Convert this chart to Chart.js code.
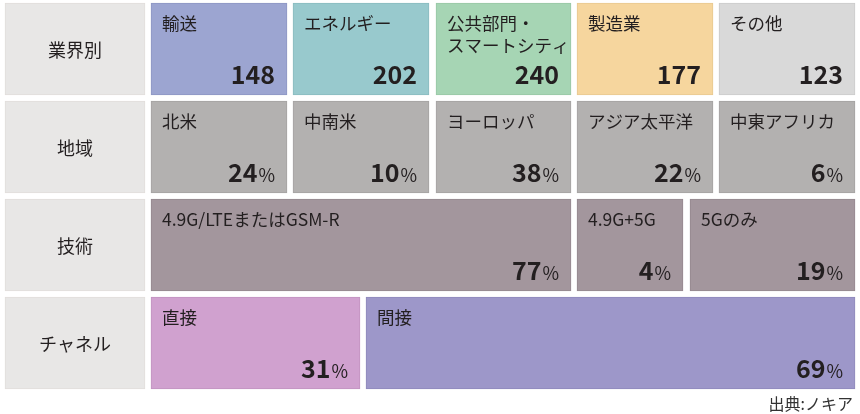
<!DOCTYPE html>
<html>
<head>
<meta charset="utf-8">
<script src="https://cdn.jsdelivr.net/npm/chart.js@4/dist/chart.umd.min.js"></script>
<style>
  body { margin: 0; background: #fff; }
  #wrap { width: 860px; height: 414px; }
</style>
</head>
<body>
<div id="wrap"><canvas id="myChart"></canvas></div>
<script>
// row headers
var rowLabels = ['業界別', '地域', '技術', 'チャネル'];

// 業界別 (件数)
var industryNames = ['輸送', 'エネルギー', '公共部門・\nスマートシティ', '製造業', 'その他'];
var industryValues = [148, 202, 240, 177, 123];

// 地域 (%)
var regionNames = ['北米', '中南米', 'ヨーロッパ', 'アジア太平洋', '中東アフリカ'];
var regionValues = [24, 10, 38, 22, 6];

// 技術 (%)
var techNames = ['4.9G/LTEまたはGSM-R', '4.9G+5G', '5Gのみ'];
var techValues = [77, 4, 19];

// チャネル (%)
var channelNames = ['直接', '間接'];
var channelValues = [31, 69];

var sourceText = '出典:ノキア';

// layout: cell edges on a 0-860 x scale
var headerSpan = [5, 145];
var rowSpans = [
  [[151, 287], [293, 429], [436, 571], [577, 713], [719, 855]],
  [[151, 287], [293, 429], [436, 571], [577, 713], [719, 855]],
  [[151, 571], [577, 683], [690, 855]],
  [[151, 360], [366, 855]]
];
var rowColors = [
  ['#9ca5d1', '#98c9cd', '#a6d5b4', '#f6d69e', '#d9d9d9'],
  ['#b3b1b0', '#b3b1b0', '#b3b1b0', '#b3b1b0', '#b3b1b0'],
  ['#a3969d', '#a3969d', '#a3969d'],
  ['#d0a1cf', '#9d97c9']
];
var headerColor = '#e8e7e6';

var rows = [
  { names: industryNames, values: industryValues, pct: false },
  { names: regionNames, values: regionValues, pct: true },
  { names: techNames, values: techValues, pct: true },
  { names: channelNames, values: channelValues, pct: true }
];

function darker(hex) {
  var n = parseInt(hex.slice(1), 16);
  var r = Math.max(0, (n >> 16) - 14), g = Math.max(0, ((n >> 8) & 255) - 14), b = Math.max(0, (n & 255) - 14);
  return 'rgb(' + r + ',' + g + ',' + b + ')';
}

// one dataset per column slot, slot 0 = row header
var datasets = [];
datasets.push({
  data: rowLabels.map(function () { return headerSpan; }),
  backgroundColor: headerColor,
  borderColor: '#e2dedb',
  borderWidth: 1,
  borderSkipped: false,
  grouped: false,
  barThickness: 92
});
for (var s = 0; s < 5; s++) {
  datasets.push({
    data: rowSpans.map(function (r) { return r[s] || null; }),
    backgroundColor: rowColors.map(function (c) { return c[s] || 'transparent'; }),
    borderColor: rowColors.map(function (c) { return c[s] ? darker(c[s]) : 'transparent'; }),
    borderWidth: 1,
    borderSkipped: false,
    grouped: false,
    barThickness: 92
  });
}

var FONT = '"Noto Sans CJK JP", "Noto Sans", sans-serif';
var INK = '#231f20';

var cellText = {
  id: 'cellText',
  afterDatasetsDraw: function (chart) {
    var ctx = chart.ctx;
    ctx.save();
    chart.data.datasets.forEach(function (ds, di) {
      var meta = chart.getDatasetMeta(di);
      meta.data.forEach(function (bar, i) {
        if (!ds.data[i]) return;
        var p = bar.getProps(['x', 'base', 'y', 'height'], true);
        var left = Math.min(p.x, p.base), right = Math.max(p.x, p.base);
        var top = p.y - p.height / 2, bottom = p.y + p.height / 2;
        ctx.fillStyle = INK;
        if (di === 0) {
          ctx.font = '18px ' + FONT;
          ctx.textAlign = 'center';
          ctx.textBaseline = 'middle';
          ctx.fillText(rowLabels[i], (left + right) / 2, p.y + 1);
          return;
        }
        var row = rows[i], k = di - 1;
        // name, top left
        ctx.font = '17.5px ' + FONT;
        ctx.textAlign = 'left';
        ctx.textBaseline = 'middle';
        row.names[k].split('\n').forEach(function (line, li) {
          ctx.fillText(line, left + 11, top + 20 + li * 22);
        });
        // value, bottom right
        ctx.textAlign = 'right';
        ctx.textBaseline = 'alphabetic';
        var xr = right - 12, yb = bottom - 11;
        if (row.pct) {
          ctx.font = '18px ' + FONT;
          ctx.fillText('%', xr, yb);
          xr -= ctx.measureText('%').width + 1;
        }
        ctx.font = 'bold 25px ' + FONT;
        ctx.fillText(String(row.values[k]), xr, yb);
      });
    });
    // source
    ctx.font = '16px ' + FONT;
    ctx.fillStyle = '#333';
    ctx.textAlign = 'right';
    ctx.textBaseline = 'middle';
    ctx.fillText(sourceText, 853, 404);
    ctx.restore();
  }
};

new Chart(document.getElementById('myChart'), {
  type: 'bar',
  data: { labels: rowLabels, datasets: datasets },
  options: {
    indexAxis: 'y',
    responsive: true,
    maintainAspectRatio: false,
    animation: false,
    layout: { padding: { left: 0, right: 0, top: 0, bottom: 22 } },
    scales: {
      x: { type: 'linear', min: 0, max: 860, display: false },
      y: { type: 'category', display: false, offset: true }
    },
    plugins: {
      legend: { display: false },
      tooltip: { enabled: false },
      title: { display: false }
    }
  },
  plugins: [cellText]
});
</script>
</body>
</html>
